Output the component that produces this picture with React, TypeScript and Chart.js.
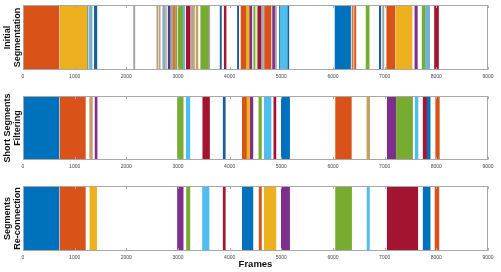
import React, { useEffect, useRef } from "react";
import { Chart, registerables } from "chart.js";

Chart.register(...registerables);

// ---- Data (frames) ----
const frameTicks = [0, 1000, 2000, 3000, 4000, 5000, 6000, 7000, 8000, 9000];
const frameTickLabels = ["0", "1000", "2000", "3000", "4000", "5000", "6000", "7000", "8000", "9000"];

const panelTitles: string[][] = [
  ["Initial", "Segmentation"],
  ["Short Segments", "Filtering"],
  ["Segments", "Re-connection"],
];

const initialSegments: [number, number][] = [
  [0, 697], [720, 1225], [1237, 1260], [1285, 1337], [1380, 1430],
  [2140, 2165], [2590, 2615], [2640, 2655], [2705, 2745], [2760, 2775],
  [2810, 2850], [2865, 2880], [2895, 2950], [2960, 2980], [3005, 3105],
  [3105, 3130], [3160, 3235], [3260, 3290], [3300, 3320], [3350, 3385],
  [3440, 3595], [3600, 3615], [3815, 3840], [3895, 3930], [4150, 4175],
  [4220, 4325], [4325, 4390], [4390, 4430], [4467, 4492], [4530, 4550],
  [4555, 4610], [4625, 4655], [4675, 4800], [4830, 4870], [4885, 4905],
  [4965, 4982], [4982, 5130], [5130, 5145], [6040, 6340], [6368, 6392],
  [6418, 6442], [6640, 6700], [6897, 6925], [6960, 6985], [7040, 7200],
  [7220, 7530], [7585, 7632], [7725, 7785], [7790, 7870], [7965, 8042],
];
const initialLabels: number[] = [
  1, 2, 11, 14, 9,
  7, 8, 7, 10, 7,
  12, 10, 13, 11, 4,
  14, 6, 7, 8, 8,
  4, 7, 9, 6, 9,
  1, 2, 3, 4, 11,
  6, 10, 1, 3, 7,
  9, 5, 9, 0, 13,
  1, 4, 9, 7, 1,
  2, 3, 4, 14, 6,
];

const filteredSegments: [number, number][] = [
  [0, 697], [720, 1207], [1291, 1343], [1395, 1434], [2990, 3100],
  [3160, 3230], [3480, 3610], [3875, 3915], [4245, 4335], [4335, 4385],
  [4400, 4450], [4565, 4615], [4670, 4800], [4855, 4895], [5000, 5160],
  [6050, 6355], [6655, 6710], [7050, 7215], [7228, 7540], [7590, 7645],
  [7745, 7812], [7825, 7880], [7988, 8058],
];
const filteredLabels: number[] = [
  0, 1, 8, 3, 4,
  5, 6, 9, 1, 2,
  3, 4, 5, 6, 0,
  1, 8, 3, 4, 5,
  6, 0, 1,
];

const reconnectedSegments: [number, number][] = [
  [0, 697], [720, 1207], [1295, 1425], [2990, 3100], [3165, 3230],
  [3475, 3600], [3875, 3915], [4245, 4450], [4570, 4615], [4670, 4895],
  [5000, 5160], [6050, 6360], [6660, 6705], [7050, 7640], [7745, 7880],
  [7975, 8050],
];
const reconnectedLabels: number[] = [
  0, 1, 2, 3, 4,
  5, 6, 0, 1, 2,
  3, 4, 5, 6, 0,
  1,
];

// ---- Styles ----
const PALETTE = [
  "#0072BD", "#D95319", "#EDB120", "#7E2F8E", "#77AC30", "#4DBEEE", "#A2142F",
  "#A3A3A3", "#C4A062", "#1F5F95", "#8FA8C4", "#9A9A55", "#4A3F6E", "#C97B3E", "#6FB3D6",
];

const FONT = "'Liberation Sans', Arial, Helvetica, sans-serif";

type PanelCfg = {
  segs: [number, number][];
  labels: number[];
  title: string[];
  top: number;
  height: number;
  axisHeight: number;
  xTitle: boolean;
};

const framePlugin = {
  id: "frameBox",
  afterDraw(chart: any) {
    const { ctx, chartArea } = chart;
    const xs = chart.scales.x;
    const l = Math.round(chartArea.left) + 0.5;
    const r = Math.round(chartArea.right) - 0.5;
    const t = Math.round(chartArea.top) + 0.5;
    const b = Math.round(chartArea.bottom) - 0.5;
    ctx.save();
    ctx.strokeStyle = "#a8a8a8";
    ctx.lineWidth = 1;
    ctx.beginPath();
    for (const v of frameTicks) {
      const px = Math.round(xs.getPixelForValue(v)) + 0.5;
      ctx.moveTo(px, t);
      ctx.lineTo(px, t + 2.5);
      ctx.moveTo(px, b);
      ctx.lineTo(px, b - 2.5);
    }
    ctx.stroke();
    ctx.strokeRect(l, t, r - l, b - t);
    ctx.restore();
  },
};

function Panel({ cfg }: { cfg: PanelCfg }) {
  const ref = useRef<HTMLCanvasElement | null>(null);
  useEffect(() => {
    if (!ref.current) return;
    const chart = new Chart(ref.current, {
      type: "bar",
      data: {
        labels: ["row"],
        datasets: [
          {
            data: cfg.segs.map(([s, e]) => ({ x: [s, e], y: "row" })) as any,
            backgroundColor: cfg.labels.map((k) => PALETTE[k]),
            borderWidth: 0,
            barPercentage: 1,
            categoryPercentage: 1,
            borderSkipped: false,
          } as any,
        ],
      },
      options: {
        indexAxis: "y",
        animation: false,
        responsive: false,
        maintainAspectRatio: false,
        events: [],
        layout: { padding: { top: 5, right: 13, left: 0, bottom: 0 } },
        plugins: { legend: { display: false }, tooltip: { enabled: false } },
        scales: {
          x: {
            type: "linear",
            min: 0,
            max: 9000,
            afterBuildTicks: (s: any) => {
              s.ticks = frameTicks.map((v) => ({ value: v }));
            },
            ticks: {
              autoSkip: false,
              maxRotation: 0,
              minRotation: 0,
              padding: 3.5,
              color: "#444",
              font: { size: 5, family: FONT },
              callback: (_v: any, i: number) => frameTickLabels[i],
            },
            grid: { display: false, drawTicks: false },
            border: { display: false },
            title: {
              display: cfg.xTitle,
              text: "Frames",
              color: "#111",
              font: { size: 9.5, weight: "bold", family: FONT },
              padding: { top: 0, bottom: 2 },
            },
            afterFit: (s: any) => {
              s.height = cfg.axisHeight;
            },
          } as any,
          y: {
            type: "category",
            ticks: { display: false },
            grid: { display: false, drawTicks: false },
            border: { display: false },
            title: {
              display: true,
              text: cfg.title,
              color: "#111",
              font: { size: 9, weight: "bold", family: FONT, lineHeight: 1.15 },
              padding: { top: 2, bottom: 0 },
            },
            afterFit: (s: any) => {
              s.width = 23;
            },
          } as any,
        },
      },
      plugins: [framePlugin],
    });
    return () => chart.destroy();
  }, [cfg]);
  return (
    <canvas
      ref={ref}
      width={501}
      height={cfg.height}
      style={{ position: "absolute", left: 0, top: cfg.top, width: 501, height: cfg.height }}
    />
  );
}

const panels: PanelCfg[] = [
  { segs: initialSegments, labels: initialLabels, title: panelTitles[0], top: 0, height: 82, axisHeight: 12, xTitle: false },
  { segs: filteredSegments, labels: filteredLabels, title: panelTitles[1], top: 91, height: 81, axisHeight: 12, xTitle: false },
  { segs: reconnectedSegments, labels: reconnectedLabels, title: panelTitles[2], top: 181, height: 91, axisHeight: 21, xTitle: true },
];

export default function App() {
  return (
    <div style={{ position: "absolute", left: 0, top: 0, width: 501, height: 272, background: "#fff", overflow: "hidden" }}>
      {panels.map((p, i) => (
        <Panel key={i} cfg={p} />
      ))}
    </div>
  );
}
